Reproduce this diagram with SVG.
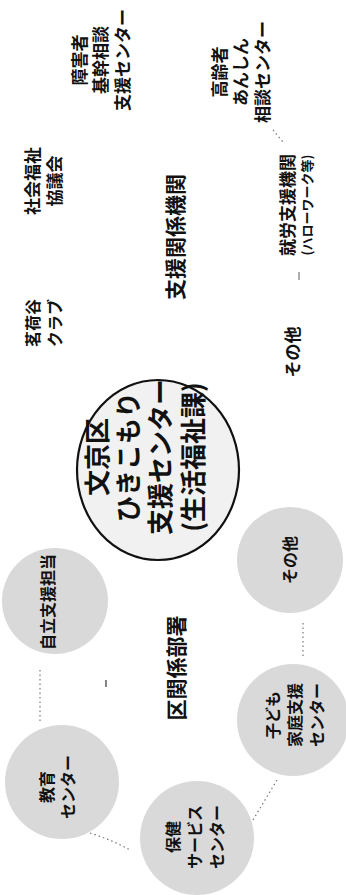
<svg xmlns="http://www.w3.org/2000/svg" width="346" height="895" viewBox="0 0 346 895">
<style>
text{font-family:"Noto Sans CJK JP","Noto Sans CJK SC",sans-serif;fill:#111;text-anchor:middle;font-weight:700}
.c{font-size:26px}
.l{font-size:17px}
.s{font-size:16px}
.h{font-size:21px}
.sm{font-size:13px}
.g{fill:#d9d9d9}
.con{fill:none;stroke:#777;stroke-width:1.2;stroke-dasharray:1.5 3}
</style>
<rect width="346" height="895" fill="#fff"/>
<g transform="translate(0,895) rotate(-90)">
<g id="connectors">
<path class="con" d="M225 40 L172 40"/>
<path class="con" d="M215 106 L208 106" style="stroke-dasharray:none;stroke:#333"/>
<path class="con" d="M272 303 L238 303"/>
<path class="con" d="M115 277 L75 253"/>
<path class="con" d="M62 90 Q55 112 45 130"/>
<path class="con" d="M765 273 L753 283"/>
<path class="con" d="M623 299 L615 299" style="stroke-dasharray:none"/>
</g>
<g id="center">
<ellipse cx="425" cy="158" rx="90" ry="81" fill="#f1f1f1" stroke="#111" stroke-width="2.2"/>
<text class="c" x="438" y="107">文京区</text>
<text class="c" x="438" y="138">ひきこもり</text>
<text class="c" x="438" y="170">支援センター</text>
<text class="c" x="438" y="203">(生活福祉課)</text>
</g>
<g id="jiritsu">
<circle class="g" cx="294" cy="55" r="53"/>
<text class="s" x="293" y="54">自立支援担当</text>
</g>
<g id="sonota2">
<circle class="g" cx="335" cy="290" r="53"/>
<text class="s" x="335" y="296">その他</text>
</g>
<g id="kodomo">
<circle class="g" cx="175" cy="293" r="56"/>
<text class="s" x="180" y="279">子ども</text>
<text class="s" x="180" y="301">家庭支援</text>
<text class="s" x="180" y="323">センター</text>
</g>
<g id="hoken">
<circle class="g" cx="57" cy="197" r="57"/>
<text class="s" x="58" y="179">保健</text>
<text class="s" x="58" y="201">サービス</text>
<text class="s" x="58" y="223">センター</text>
</g>
<g id="kyoiku">
<circle class="g" cx="113" cy="62" r="57"/>
<text class="s" x="108" y="53">教育</text>
<text class="s" x="108" y="74">センター</text>
</g>
<g id="shogai">
<text class="l" x="835" y="86">障害者</text>
<text class="l" x="835" y="107">基幹相談</text>
<text class="l" x="835" y="129">支援センター</text>
</g>
<g id="koreisha">
<text class="l" x="823" y="226">高齢者</text>
<text class="l" x="823" y="247">あんしん</text>
<text class="l" x="823" y="269">相談センター</text>
</g>
<g id="shakyo">
<text class="l" x="714" y="39">社会福祉</text>
<text class="l" x="714" y="61">協議会</text>
</g>
<g id="myogadani">
<text class="s" x="572" y="39">茗荷谷</text>
<text class="s" x="572" y="61">クラブ</text>
</g>
<g id="shuro">
<text class="l" x="690" y="294">就労支援機関</text>
<text class="sm" x="690" y="312">(ハローワーク等)</text>
</g>
<g id="sonota1">
<text class="l" x="543" y="299">その他</text>
</g>
<g id="shienkankei">
<text class="h" x="658" y="183">支援関係機関</text>
</g>
<g id="kukankei">
<text class="h" x="227" y="184">区関係部署</text>
</g>
</g>
</svg>
